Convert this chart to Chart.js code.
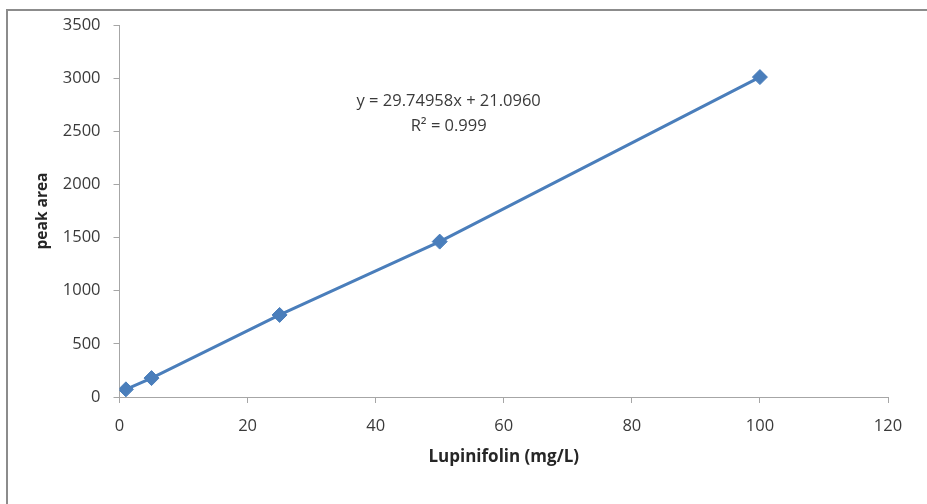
<!DOCTYPE html>
<html>
<head>
<meta charset="utf-8">
<script src="https://cdn.jsdelivr.net/npm/chart.js@4/dist/chart.umd.min.js"></script>
<style>
  html, body { margin: 0; padding: 0; background: #ffffff; }
  #wrap { position: relative; width: 927px; height: 504px; overflow: hidden; background: #fff; }
  #frame { position: absolute; left: 6px; top: 9px; width: 1000px; height: 600px;
           border-top: 2px solid #8c8c8c; border-left: 2px solid #8c8c8c; box-sizing: border-box; }
  canvas { position: absolute; left: 0; top: 0; }
</style>
</head>
<body>
<div id="wrap">
  <div id="frame"></div>
  <canvas id="c" width="927" height="504"></canvas>
</div>
<script>
// ---- data ----
const concentrations = [1, 5, 25, 50, 100];          // Lupinifolin (mg/L)
const peakAreas = [72, 178, 772, 1462, 3010];         // peak area
const xTicks = [0, 20, 40, 60, 80, 100, 120];
const yTicks = [0, 500, 1000, 1500, 2000, 2500, 3000, 3500];
const equationLines = ["y = 29.74958x + 21.0960", "R\u00B2 = 0.999"];
const xTitle = "Lupinifolin (mg/L)";
const yTitle = "peak area";

const FONT = "'Open Sans', 'DejaVu Sans', sans-serif";
const TEXT = "#3a3a3a";
const AXIS = "#a6a6a6";
const BLUE = "#4a7ebb";

const equationPlugin = {
  id: 'equation',
  afterDatasetsDraw(chart) {
    const { ctx, scales } = chart;
    const cx = scales.x.getPixelForValue(51.4);
    const y1 = scales.y.getPixelForValue(2785);
    const y2 = scales.y.getPixelForValue(2545);
    ctx.save();
    ctx.fillStyle = TEXT;
    ctx.font = "16.5px " + FONT;
    ctx.textAlign = 'center';
    ctx.textBaseline = 'middle';
    ctx.fillText(equationLines[0], cx, y1);
    ctx.fillText(equationLines[1], cx, y2);
    ctx.restore();
  }
};

const data = {
  datasets: [{
    data: concentrations.map((c, i) => ({ x: c, y: peakAreas[i] })),
    showLine: true,
    borderColor: BLUE,
    backgroundColor: BLUE,
    borderWidth: 3,
    pointStyle: 'rectRot',
    pointRadius: 7.5,
    pointBorderWidth: 1,
    pointBackgroundColor: BLUE,
    pointBorderColor: BLUE,
    tension: 0
  }]
};

new Chart(document.getElementById('c'), {
  type: 'scatter',
  data,
  plugins: [equationPlugin],
  options: {
    responsive: false,
    animation: false,
    events: [],
    layout: { padding: { left: 0, right: 39, top: 25, bottom: 37 } },
    plugins: { legend: { display: false }, tooltip: { enabled: false } },
    scales: {
      x: {
        type: 'linear',
        min: 0, max: 120,
        afterBuildTicks(scale) { scale.ticks = xTicks.map(v => ({ value: v })); },
        afterFit(scale) { scale.height = 70; },
        grid: { display: true, drawOnChartArea: false, drawTicks: true, tickLength: 6, color: AXIS, lineWidth: 1 },
        border: { display: true, color: AXIS, width: 1 },
        ticks: { color: TEXT, font: { family: FONT, size: 16.5 }, padding: 13, maxRotation: 0,
                 callback: v => String(v) },
        title: { display: true, text: xTitle, color: '#262626',
                 font: { family: FONT, size: 17, weight: 'bold' }, padding: { top: 4, bottom: 0 } }
      },
      y: {
        type: 'linear',
        min: 0, max: 3500,
        afterBuildTicks(scale) { scale.ticks = yTicks.map(v => ({ value: v })); },
        afterFit(scale) { scale.width = 119.5; },
        grid: { display: true, drawOnChartArea: false, drawTicks: true, tickLength: 6, color: AXIS, lineWidth: 1 },
        border: { display: true, color: AXIS, width: 1 },
        ticks: { color: TEXT, font: { family: FONT, size: 16.5 }, padding: 13,
                 callback: v => String(v) },
        title: { display: true, text: yTitle, color: '#262626',
                 font: { family: FONT, size: 15.5, weight: 'bold' }, padding: { top: 33, bottom: 0 } }
      }
    }
  }
});
</script>
</body>
</html>
